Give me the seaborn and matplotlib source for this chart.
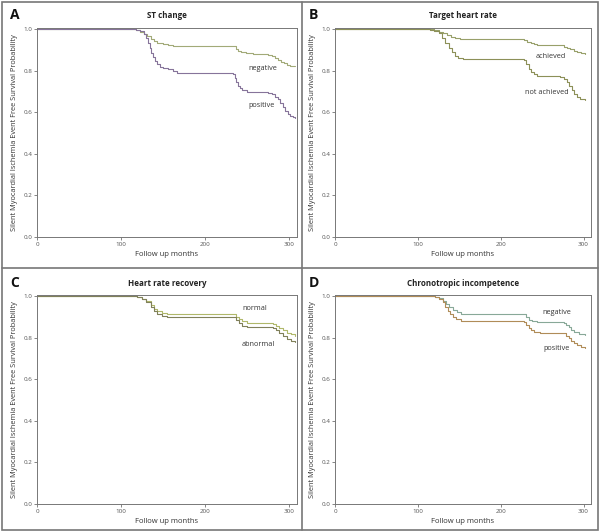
import matplotlib
matplotlib.use("Agg")
import matplotlib.pyplot as plt
import seaborn as sns
from matplotlib.lines import Line2D
from matplotlib.patches import Rectangle

sns.set_theme(style="white")
plt.rcParams["font.family"] = ["Open Sans", "DejaVu Sans"]

# Kaplan-Meier step values (months, survival after step)
a_neg_t = [0, 113, 118, 123, 127, 131, 135, 139, 143, 150, 156, 162, 233, 236, 239, 242,
           248, 257, 275, 279, 283, 287, 290, 293, 297, 301, 307]
a_neg_s = [1.0, 0.998, 0.994, 0.988, 0.978, 0.965, 0.952, 0.942, 0.934, 0.928, 0.924, 0.92,
           0.918, 0.905, 0.895, 0.89, 0.884, 0.88, 0.876, 0.87, 0.862, 0.852, 0.842, 0.835,
           0.828, 0.823, 0.82]
a_pos_t = [0, 113, 118, 123, 127, 130, 132, 134, 136, 138, 140, 143, 146, 150, 156, 162,
           166, 233, 235, 237, 239, 241, 244, 250, 275, 279, 283, 286, 289, 292, 295, 298,
           301, 304, 307]
a_pos_s = [1.0, 0.998, 0.995, 0.99, 0.975, 0.955, 0.935, 0.91, 0.885, 0.865, 0.848, 0.83,
           0.818, 0.812, 0.806, 0.798, 0.79, 0.785, 0.765, 0.745, 0.728, 0.715, 0.705,
           0.698, 0.694, 0.688, 0.675, 0.662, 0.645, 0.625, 0.607, 0.593, 0.583, 0.577, 0.572]

b_ach_t = [0, 115, 120, 125, 130, 135, 140, 145, 151, 157, 228, 232, 236, 240, 244, 272,
           276, 280, 284, 288, 292, 297, 302]
b_ach_s = [1.0, 0.998, 0.994, 0.988, 0.98, 0.972, 0.964, 0.958, 0.954, 0.95, 0.948, 0.94,
           0.933, 0.928, 0.925, 0.922, 0.916, 0.91, 0.903, 0.896, 0.89, 0.885, 0.88]
b_not_t = [0, 115, 120, 125, 129, 133, 137, 141, 145, 149, 155, 161, 228, 231, 234, 237,
           240, 244, 272, 276, 280, 283, 286, 289, 292, 296, 302]
b_not_s = [1.0, 0.997, 0.992, 0.98, 0.958, 0.935, 0.91, 0.89, 0.872, 0.862, 0.857, 0.855,
           0.85, 0.83, 0.81, 0.795, 0.782, 0.775, 0.77, 0.76, 0.745, 0.725, 0.705, 0.688,
           0.675, 0.665, 0.658]

c_nor_t = [0, 119, 125, 130, 135, 139, 143, 148, 154, 234, 237, 240, 244, 250, 281, 284,
           288, 292, 297, 302, 307]
c_nor_s = [1.0, 0.996, 0.988, 0.975, 0.958, 0.94, 0.928, 0.92, 0.915, 0.912, 0.9, 0.888,
           0.878, 0.87, 0.866, 0.858, 0.846, 0.835, 0.824, 0.816, 0.81]
c_abn_t = [0, 119, 125, 130, 135, 139, 143, 148, 154, 234, 237, 240, 244, 250, 281, 284,
           288, 292, 297, 302, 307]
c_abn_s = [1.0, 0.995, 0.985, 0.97, 0.948, 0.93, 0.916, 0.906, 0.9, 0.897, 0.884, 0.87,
           0.858, 0.85, 0.845, 0.835, 0.82, 0.806, 0.795, 0.786, 0.78]

d_neg_t = [0, 121, 126, 130, 134, 138, 142, 147, 152, 228, 231, 234, 238, 244, 276, 279,
           282, 285, 288, 294, 302]
d_neg_s = [1.0, 0.996, 0.99, 0.978, 0.962, 0.946, 0.932, 0.922, 0.915, 0.912, 0.898,
           0.887, 0.879, 0.875, 0.872, 0.862, 0.85, 0.836, 0.826, 0.819, 0.815]
d_pos_t = [0, 121, 126, 130, 133, 136, 139, 142, 146, 152, 228, 231, 234, 237, 240, 248,
           276, 279, 282, 285, 288, 292, 297, 302]
d_pos_s = [1.0, 0.995, 0.985, 0.97, 0.948, 0.928, 0.912, 0.9, 0.888, 0.88, 0.876, 0.86,
           0.845, 0.835, 0.828, 0.824, 0.82, 0.808, 0.796, 0.785, 0.775, 0.765, 0.755, 0.748]

panels = [
    ("A", "ST change", (a_neg_t, a_neg_s, "negative", 251, 0.81),
     (a_pos_t, a_pos_s, "positive", 251, 0.63)),
    ("B", "Target heart rate", (b_ach_t, b_ach_s, "achieved", 242, 0.867),
     (b_not_t, b_not_s, "not achieved", 229, 0.695)),
    ("C", "Heart rate recovery", (c_nor_t, c_nor_s, "normal", 244, 0.94),
     (c_abn_t, c_abn_s, "abnormal", 243, 0.765)),
    ("D", "Chronotropic incompetence", (d_neg_t, d_neg_s, "negative", 250, 0.92),
     (d_pos_t, d_pos_s, "positive", 252, 0.75)),
]
colors = [("#a2aa78", "#86749a"), ("#98a06a", "#8c9058"),
          ("#b0b86a", "#80805a"), ("#88a898", "#b08c58")]

W, H = 600, 532
fig = plt.figure(figsize=(6.0, 5.32), dpi=100)

# axes rectangles in pixels: left, top, right, bottom
boxes = [(37, 28, 297, 237), (335, 28, 591, 237),
         (37, 295, 297, 504), (335, 295, 591, 504)]
letter_pos = [(10, 15), (309, 15), (10, 283), (309, 283)]
title_y = [15, 15, 284, 284]

for i, (letter, title, c1, c2) in enumerate(panels):
    l, t, r, b = boxes[i]
    ax = fig.add_axes([l / W, 1 - b / H, (r - l) / W, (b - t) / H])
    for (tt, ss, lab, lx, ly), col in zip((c1, c2), colors[i]):
        sns.lineplot(x=tt, y=ss, drawstyle="steps-post", color=col,
                     linewidth=0.8, ax=ax, sort=False)
        ax.text(lx, ly, lab, fontsize=5.2, color="#333333", va="center")
    ax.set_xlim(0, 309)
    ax.set_ylim(0, 1.005)
    ax.set_xticks([0, 100, 200, 300])
    ax.set_yticks([0.0, 0.2, 0.4, 0.6, 0.8, 1.0])
    ax.set_yticklabels(["0.0", "0.2", "0.4", "0.6", "0.8", "1.0"])
    ax.tick_params(axis="both", labelsize=4.5, length=2, width=0.5,
                   colors="#555555", pad=1.5, direction="out")
    ax.tick_params(bottom=True, left=True)
    for sp in ax.spines.values():
        sp.set_color("#777777")
        sp.set_linewidth(0.7)
    ax.set_xlabel("Follow up months", fontsize=5.5, color="#333333", labelpad=3)
    ax.set_ylabel("Silent Myocardial Ischemia Event Free Survival Probability",
                  fontsize=5.3, color="#333333", labelpad=4)
    cx = (l + r) / 2
    fig.text(cx / W, 1 - title_y[i] / H, title, fontsize=5.8, fontweight="bold",
             color="#222222", ha="center", va="center")
    lxp, lyp = letter_pos[i]
    fig.text(lxp / W, 1 - lyp / H, letter, fontsize=10, fontweight="bold",
             color="#111111", ha="left", va="center")

# panel frames
fig.patches.append(Rectangle((2 / W, 2 / H), 596 / W, 528 / H, transform=fig.transFigure,
                             fill=False, edgecolor="#777777", linewidth=1.2))
fig.lines.append(Line2D([302 / W, 302 / W], [2 / H, 530 / H], transform=fig.transFigure,
                        color="#777777", linewidth=1.2))
fig.lines.append(Line2D([2 / W, 598 / W], [1 - 268 / H, 1 - 268 / H], transform=fig.transFigure,
                        color="#777777", linewidth=1.2))

fig.savefig("out.png", dpi=100, facecolor="white")
